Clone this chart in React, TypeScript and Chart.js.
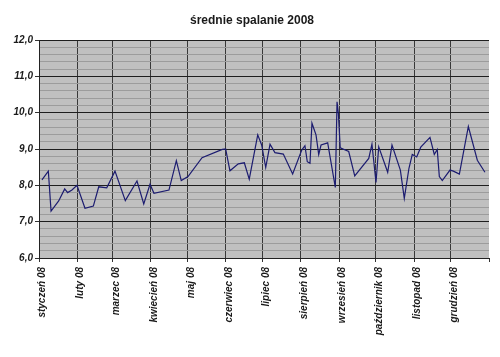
import React, { useEffect, useRef } from "react";
import { Chart, registerables } from "chart.js";

Chart.register(...registerables);

const chartTitle = "średnie spalanie 2008";

const monthLabels = [
  "styczeń 08",
  "luty 08",
  "marzec 08",
  "kwiecień 08",
  "maj 08",
  "czerwiec 08",
  "lipiec 08",
  "sierpień 08",
  "wrzesień 08",
  "październik 08",
  "listopad 08",
  "grudzień 08",
  "",
];

// day-of-year (0 = 1 Jan 2008) where each month begins; last = 1 Jan 2009
const monthStartDays = [0, 31, 60, 91, 121, 152, 182, 213, 244, 274, 305, 335, 366];

// day-of-year of each refuelling
const refuelDays = [
  2.4, 7.6, 9.8, 16, 20.9, 23.3, 26.8, 30.9, 37.4, 44.2, 48.6, 55.1, 61.8, 70.2,
  79.7, 85.2, 90.3, 93.5, 105.7, 111.7, 115.7, 121.2, 132.6, 149.1, 151.8, 155.3,
  162.1, 167, 171, 177.9, 181.1, 184.4, 187.9, 191.9, 198.7, 206.3, 213.7, 216.3,
  218.2, 220.4, 222, 225.3, 227.5, 229.4, 234.8, 241, 242.4, 243.5, 245, 251.9,
  256.8, 268.2, 270.8, 274.1, 276.3, 283.6, 287.1, 293.9, 297.1, 300.9, 303.6,
  307.2, 310.5, 318, 321.5, 323.9, 325.6, 328, 334.3, 337, 341.9, 349.2, 356.5,
  362.7,
];

// average consumption (l/100 km)
const consumption = [
  8.15, 8.39, 7.29, 7.57, 7.9, 7.8, 7.87, 8.0, 7.37, 7.43, 7.96, 7.93, 8.39, 7.58,
  8.12, 7.49, 8.03, 7.78, 7.87, 8.68, 8.13, 8.24, 8.76, 8.99, 9.0, 8.4,
  8.59, 8.62, 8.17, 9.39, 9.11, 8.49, 9.13, 8.9, 8.86, 8.31, 8.97, 9.09,
  8.65, 8.61, 9.71, 9.39, 8.85, 9.11, 9.17, 7.94, 10.3, 9.98, 9.03, 8.93,
  8.26, 8.74, 9.13, 8.08, 9.06, 8.36, 9.11, 8.42, 7.64, 8.47, 8.85,
  8.78, 9.05, 9.32, 8.85, 8.99, 8.24, 8.13, 8.42, 8.39, 8.31, 9.62, 8.69,
  8.36,
];

const yMin = 6;
const yMax = 12;
const yStep = 0.2;

const isMajor = (v: number) => Math.abs(v - Math.round(v)) < 1e-6;

const backgroundPlugin = {
  id: "plotBackground",
  beforeDraw(chart: any) {
    const { ctx, chartArea } = chart;
    const { left, top, right, bottom } = chartArea;
    ctx.save();
    ctx.fillStyle = "#c0c0c0";
    ctx.fillRect(left, top, right - left, bottom - top);
    ctx.restore();
  },
};

const titlePlugin = {
  id: "customTitle",
  afterDraw(chart: any) {
    const { ctx } = chart;
    ctx.save();
    ctx.font = "bold 12px 'Liberation Sans', Arial, sans-serif";
    ctx.fillStyle = "#1a1a1a";
    ctx.textAlign = "center";
    ctx.textBaseline = "middle";
    ctx.fillText(chartTitle, 252, 21);
    ctx.restore();
  },
};

export default function App() {
  const canvasRef = useRef<HTMLCanvasElement | null>(null);

  useEffect(() => {
    document.body.style.margin = "0";
    const canvas = canvasRef.current;
    if (!canvas) return;

    const points = refuelDays.map((d, i) => ({ x: d, y: consumption[i] }));

    const chart = new Chart(canvas, {
      type: "line",
      data: {
        datasets: [
          {
            data: points,
            borderColor: "#1c1c70",
            borderWidth: 1.2,
            pointRadius: 0,
            tension: 0,
            fill: false,
          },
        ],
      },
      plugins: [backgroundPlugin, titlePlugin],
      options: {
        animation: false,
        responsive: false,
        devicePixelRatio: 1,
        layout: { padding: { top: 40, right: 11, left: 0, bottom: 0 } },
        plugins: {
          legend: { display: false },
          title: { display: false },
          tooltip: { enabled: false },
        },
        scales: {
          x: {
            type: "linear",
            min: 0,
            max: 366,
            afterFit: (scale: any) => {
              scale.height = 99;
              scale.paddingLeft = 0;
              scale.paddingRight = 0;
            },
            afterBuildTicks: (axis: any) => {
              axis.ticks = monthStartDays.map((v) => ({ value: v }));
            },
            ticks: {
              autoSkip: false,
              minRotation: 90,
              maxRotation: 90,
              padding: 5,
              labelOffset: 3,
              color: "#1a1a1a",
              font: {
                family: "'Liberation Sans', Arial, sans-serif",
                size: 10,
                style: "italic",
                weight: "bold",
              },
              callback: (value: any) => {
                const i = monthStartDays.indexOf(Number(value));
                return i >= 0 ? monthLabels[i] : "";
              },
            },
            grid: {
              color: (ctx: any) =>
                ctx.tick && ctx.tick.value === 366 ? "rgba(0,0,0,0)" : "#383838",
              lineWidth: 1,
              tickLength: 4,
              tickColor: "#333333",
            },
            border: { display: true, color: "#222222", width: 1 },
          },
          y: {
            type: "linear",
            min: yMin,
            max: yMax,
            afterFit: (scale: any) => {
              scale.width = 39;
              scale.paddingTop = 0;
              scale.paddingBottom = 0;
            },
            ticks: {
              stepSize: yStep,
              autoSkip: false,
              padding: 2,
              color: "#1a1a1a",
              font: {
                family: "'Liberation Sans', Arial, sans-serif",
                size: 10,
                style: "italic",
                weight: "bold",
              },
              callback: (value: any) => {
                const v = Number(value);
                return isMajor(v) ? v.toFixed(1).replace(".", ",") : "";
              },
            },
            grid: {
              color: (ctx: any) =>
                ctx.tick && isMajor(ctx.tick.value) ? "#1e1e1e" : "#9c9c9c",
              lineWidth: 1,
              tickLength: 4,
              tickColor: (ctx: any) =>
                ctx.tick && isMajor(ctx.tick.value) ? "#333333" : "rgba(0,0,0,0)",
            },
            border: { display: true, color: "#222222", width: 1 },
          },
        },
      },
    } as any);

    return () => {
      chart.destroy();
    };
  }, []);

  return (
    <div style={{ width: 500, height: 357, background: "#ffffff" }}>
      <canvas ref={canvasRef} width={500} height={357} />
    </div>
  );
}
